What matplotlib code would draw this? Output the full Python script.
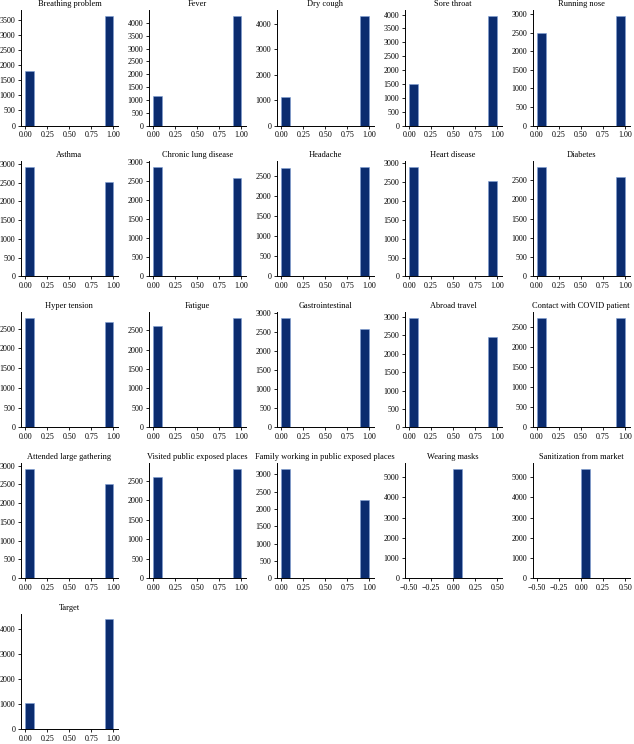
import numpy as np
import matplotlib
matplotlib.use("Agg")
import matplotlib.pyplot as plt
from matplotlib.ticker import MaxNLocator

plt.rcParams['font.family'] = ['Liberation Serif', 'DejaVu Serif']

# counts of 0 ("No") and 1 ("Yes") for each column
features = ['Breathing problem', 'Fever', 'Dry cough', 'Sore throat', 'Running nose',
            'Asthma', 'Chronic lung disease', 'Headache', 'Heart disease', 'Diabetes',
            'Hyper tension', 'Fatigue', 'Gastrointestinal', 'Abroad travel',
            'Contact with COVID patient', 'Attended large gathering',
            'Visited public exposed places', 'Family working in public exposed places',
            'Wearing masks', 'Sanitization from market', 'Target']
count_no = [1814, 1161, 1127, 1481, 2482,
            2919, 2869, 2698, 2911, 2846,
            2775, 2613, 2870, 2982,
            2708, 2924,
            2614, 3168,
            5434, 5434, 1051]
count_yes = [3620, 4273, 4307, 3953, 2952,
             2515, 2565, 2736, 2523, 2588,
             2659, 2821, 2564, 2452,
             2726, 2510,
             2820, 2266,
             0, 0, 4383]

bar_color = '#0b2c6f'
nice_steps = [1, 2, 2.5, 5, 10]

fig, axes = plt.subplots(5, 5, figsize=(6.34, 7.44), dpi=100)
plt.subplots_adjust(left=0.033, right=0.993, bottom=0.02, top=0.986,
                     wspace=0.32, hspace=0.31)

for i, ax in enumerate(axes.flat):
    if i >= len(features):
        ax.axis('off')
        continue
    vals, wts = [], []
    if count_no[i] > 0:
        vals.append(0)
        wts.append(count_no[i])
    if count_yes[i] > 0:
        vals.append(1)
        wts.append(count_yes[i])
    ax.hist(vals, bins=10, weights=wts, color=bar_color,
            edgecolor='#7f9fd6', linewidth=0.4)
    ax.set_title(features[i], fontsize=6, pad=3)
    ax.xaxis.set_major_locator(MaxNLocator(nbins=5, steps=nice_steps))
    ax.yaxis.set_major_locator(MaxNLocator(nbins=9, steps=nice_steps))
    ax.spines['top'].set_visible(False)
    ax.spines['right'].set_visible(False)
    ax.spines['left'].set_linewidth(0.7)
    ax.spines['bottom'].set_linewidth(0.7)
    ax.tick_params(labelsize=5.8, length=2, width=0.6, pad=2)
    ax.grid(False)

fig.savefig('out.png', dpi=100)
